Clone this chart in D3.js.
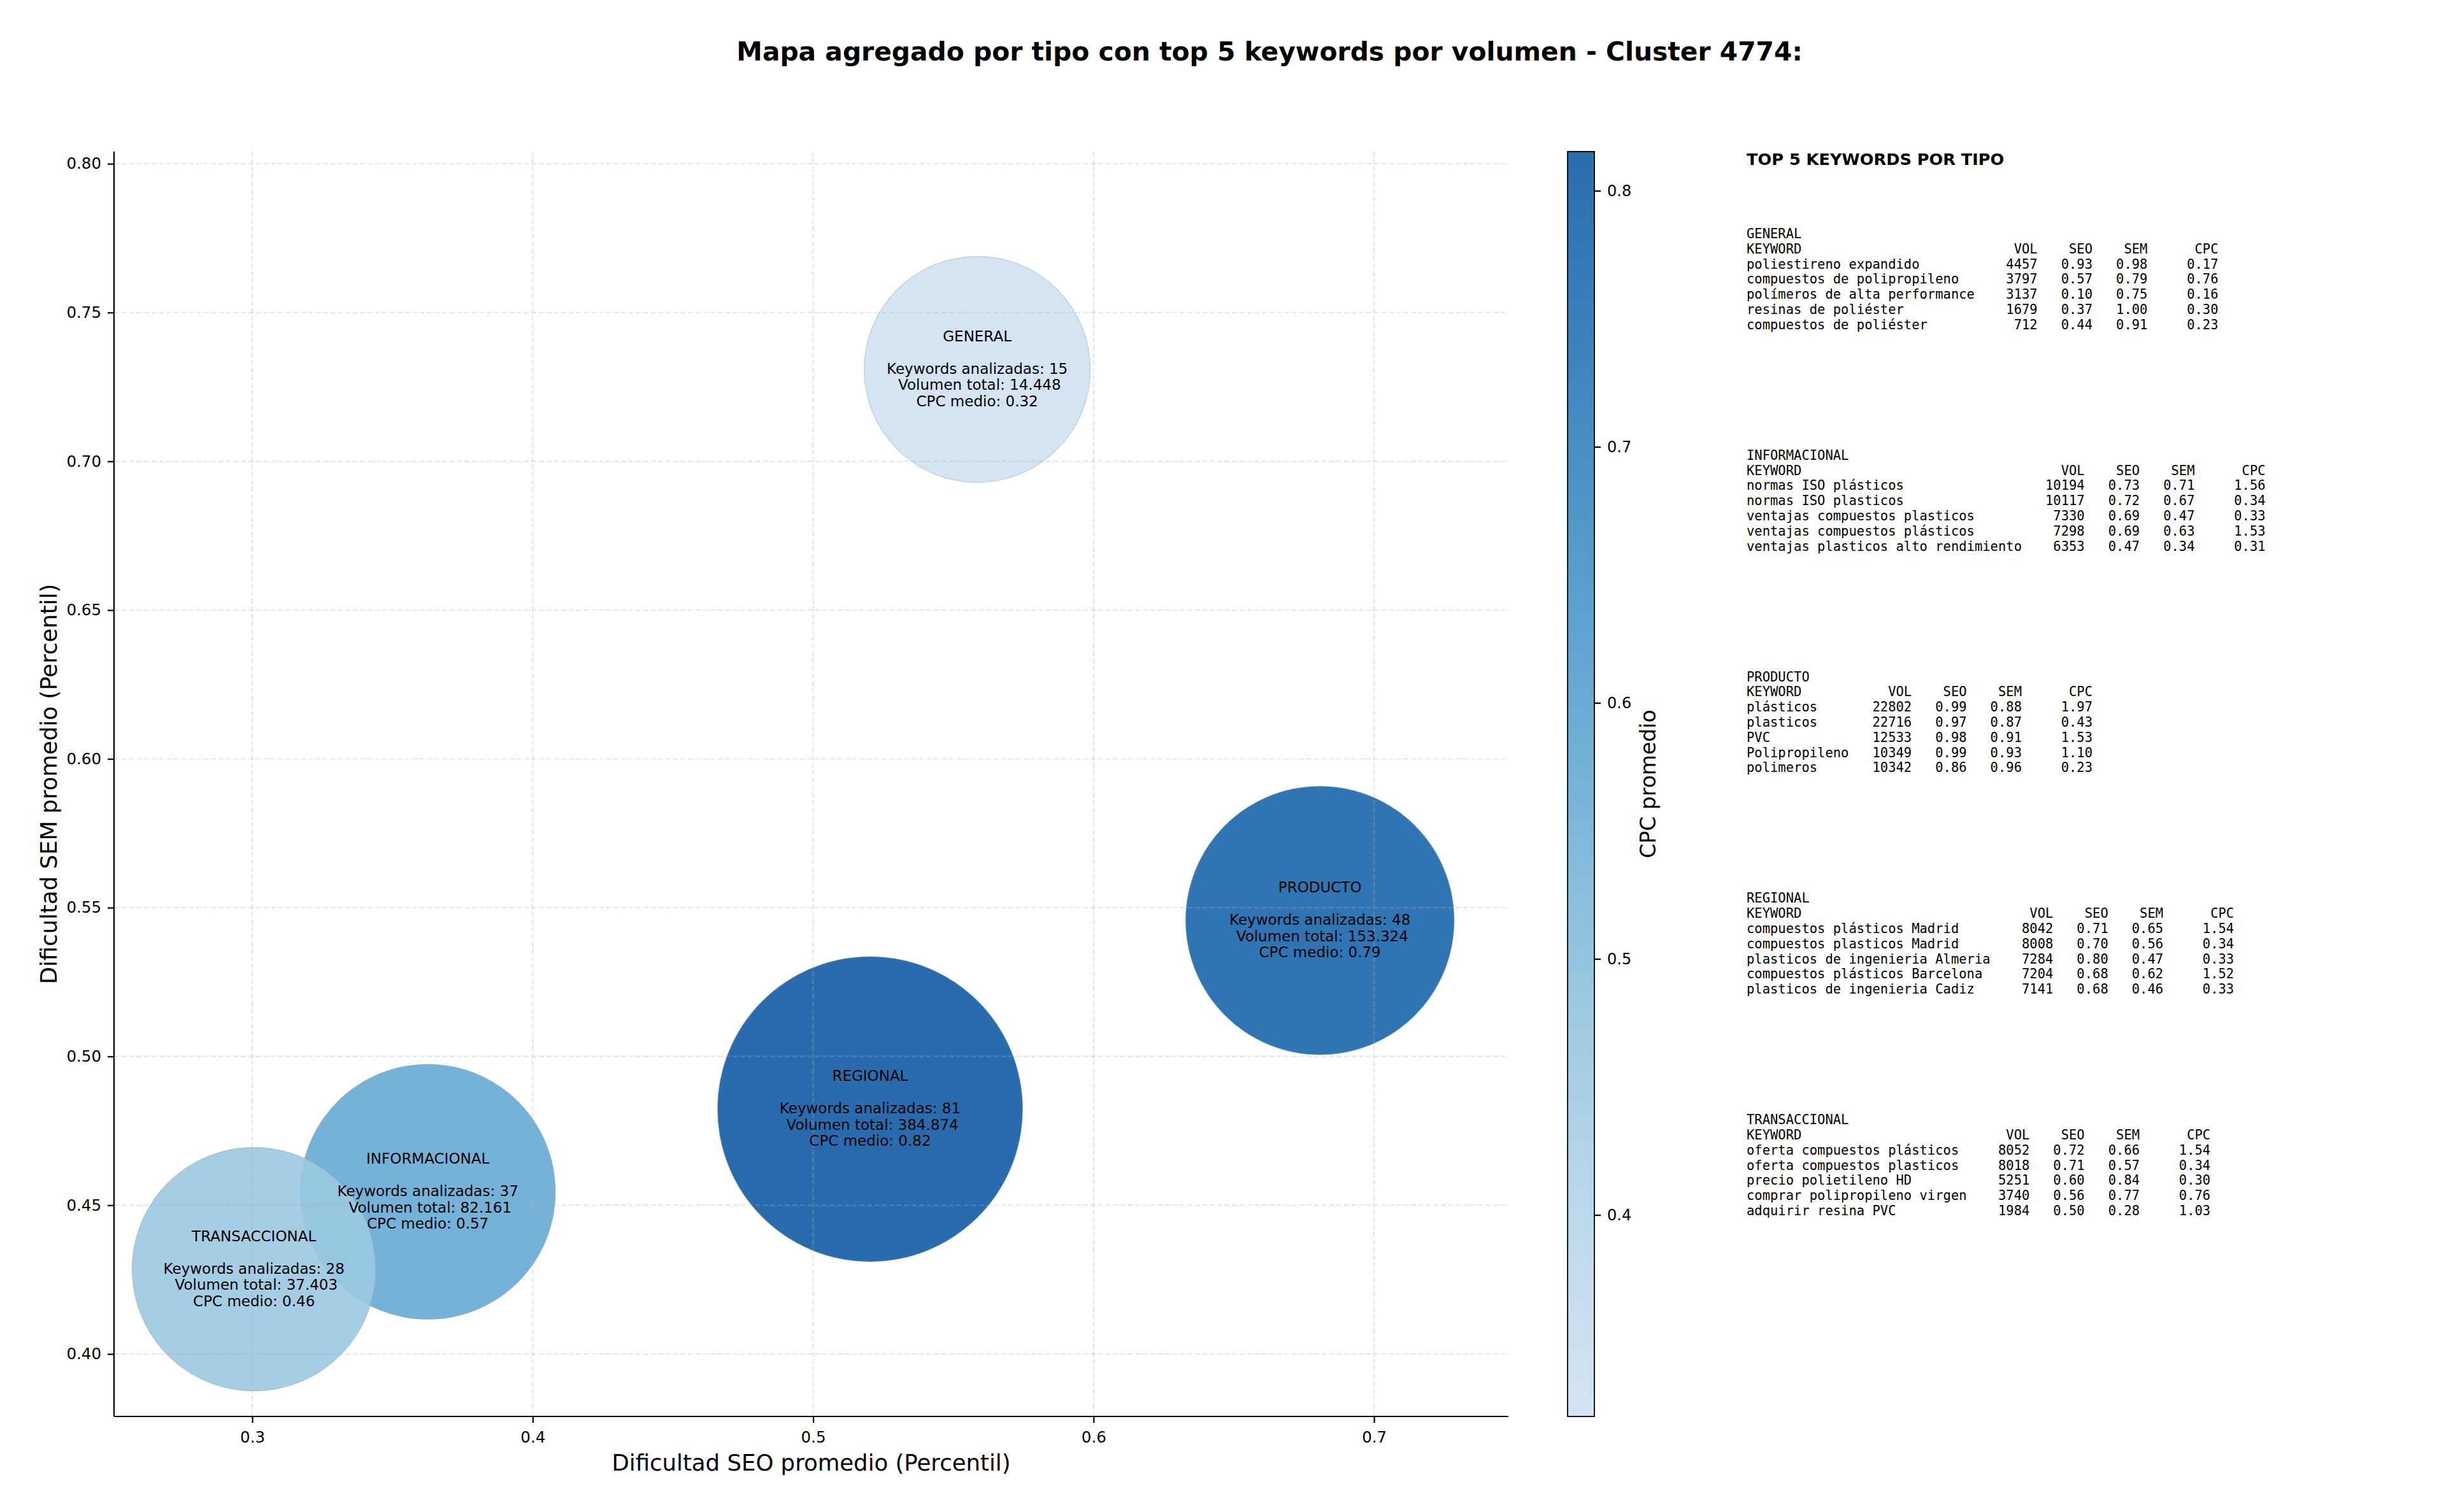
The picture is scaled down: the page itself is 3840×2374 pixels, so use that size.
<!DOCTYPE html>
<html>
<head>
<meta charset="utf-8">
<script src="https://cdn.jsdelivr.net/npm/d3@7"></script>
<style>
  body { margin: 0; background: #fff; }
  text { font-family: "DejaVu Sans", sans-serif; fill: #000; }
  .mono { font-family: "DejaVu Sans Mono", monospace; white-space: pre; }
</style>
</head>
<body>
<svg id="chart" width="3840" height="2374"></svg>
<script>
// aggregated values per search type
var tipos = ["GENERAL", "INFORMACIONAL", "PRODUCTO", "REGIONAL", "TRANSACCIONAL"];
var seoMedio = [0.5585, 0.3626, 0.6807, 0.5203, 0.3006];
var semMedio = [0.7309, 0.4545, 0.5457, 0.4823, 0.4285];
var nKeywords = [15, 37, 48, 81, 28];
var volTotal = [14448, 82161, 153324, 384874, 37403];
var cpcMedio = [0.3213, 0.57, 0.79, 0.8153, 0.46];

var xTicks = [0.3, 0.4, 0.5, 0.6, 0.7];
var yTicks = [0.40, 0.45, 0.50, 0.55, 0.60, 0.65, 0.70, 0.75, 0.80];
var cbTicks = [0.4, 0.5, 0.6, 0.7, 0.8];

// top 5 keywords per type: keyword, vol, seo, sem, cpc
var topGeneral = [
  ["poliestireno expandido", 4457, 0.93, 0.98, 0.17],
  ["compuestos de polipropileno", 3797, 0.57, 0.79, 0.76],
  ["polímeros de alta performance", 3137, 0.10, 0.75, 0.16],
  ["resinas de poliéster", 1679, 0.37, 1.00, 0.30],
  ["compuestos de poliéster", 712, 0.44, 0.91, 0.23]
];
var topInformacional = [
  ["normas ISO plásticos", 10194, 0.73, 0.71, 1.56],
  ["normas ISO plasticos", 10117, 0.72, 0.67, 0.34],
  ["ventajas compuestos plasticos", 7330, 0.69, 0.47, 0.33],
  ["ventajas compuestos plásticos", 7298, 0.69, 0.63, 1.53],
  ["ventajas plasticos alto rendimiento", 6353, 0.47, 0.34, 0.31]
];
var topProducto = [
  ["plásticos", 22802, 0.99, 0.88, 1.97],
  ["plasticos", 22716, 0.97, 0.87, 0.43],
  ["PVC", 12533, 0.98, 0.91, 1.53],
  ["Polipropileno", 10349, 0.99, 0.93, 1.10],
  ["polimeros", 10342, 0.86, 0.96, 0.23]
];
var topRegional = [
  ["compuestos plásticos Madrid", 8042, 0.71, 0.65, 1.54],
  ["compuestos plasticos Madrid", 8008, 0.70, 0.56, 0.34],
  ["plasticos de ingenieria Almeria", 7284, 0.80, 0.47, 0.33],
  ["compuestos plásticos Barcelona", 7204, 0.68, 0.62, 1.52],
  ["plasticos de ingenieria Cadiz", 7141, 0.68, 0.46, 0.33]
];
var topTransaccional = [
  ["oferta compuestos plásticos", 8052, 0.72, 0.66, 1.54],
  ["oferta compuestos plasticos", 8018, 0.71, 0.57, 0.34],
  ["precio polietileno HD", 5251, 0.60, 0.84, 0.30],
  ["comprar polipropileno virgen", 3740, 0.56, 0.77, 0.76],
  ["adquirir resina PVC", 1984, 0.50, 0.28, 1.03]
];
var topPorTipo = [topGeneral, topInformacional, topProducto, topRegional, topTransaccional];

var svg = d3.select("#chart");
svg.append("rect").attr("width", 3840).attr("height", 2374).attr("fill", "#fff");

var plot = { left: 179, right: 2368, top: 238, bottom: 2224 };

var x = d3.scaleLinear().domain([0.2507, 0.7479]).range([plot.left, plot.right]);
var y = d3.scaleLinear().domain([0.379, 0.8041]).range([plot.bottom, plot.top]);

// bubble area grows with the number of keywords
var area = d3.scaleLinear().domain(d3.extent(nKeywords)).range([177.5 * 177.5, 239.5 * 239.5]);

var color = d3.scaleSequential(function(t) { return d3.interpolateBlues(0.2 + 0.63 * t); })
  .domain(d3.extent(cpcMedio));

var data = tipos.map(function(t, i) {
  return { tipo: t, seo: seoMedio[i], sem: semMedio[i], n: nKeywords[i], vol: volTotal[i], cpc: cpcMedio[i] };
});

var es = d3.formatLocale({ decimal: ",", thousands: ".", grouping: [3], currency: ["", ""] });
var fmtVol = es.format(",d");

// bubbles
svg.append("g").selectAll("circle")
  .data(data)
  .enter().append("circle")
  .attr("cx", function(d) { return x(d.seo); })
  .attr("cy", function(d) { return y(d.sem); })
  .attr("r", function(d) { return Math.sqrt(area(d.n)); })
  .attr("fill", function(d) { return color(d.cpc); })
  .attr("fill-opacity", 0.9)
  .attr("stroke", "#8a9aab")
  .attr("stroke-opacity", 0.35)
  .attr("stroke-width", 1.5);

// grid (drawn over the bubbles like matplotlib does)
var grid = svg.append("g")
  .attr("stroke", "#b0b0b0")
  .attr("stroke-opacity", 0.3)
  .attr("stroke-width", 2.2)
  .attr("stroke-dasharray", "8.2,3.5");
grid.selectAll(".gx").data(xTicks).enter().append("line")
  .attr("x1", function(d) { return x(d); }).attr("x2", function(d) { return x(d); })
  .attr("y1", plot.top).attr("y2", plot.bottom);
grid.selectAll(".gy").data(yTicks).enter().append("line")
  .attr("y1", function(d) { return y(d); }).attr("y2", function(d) { return y(d); })
  .attr("x1", plot.left).attr("x2", plot.right);

// axes
var xAxis = svg.append("g")
  .attr("transform", "translate(0," + plot.bottom + ")")
  .call(d3.axisBottom(x).tickValues(xTicks).tickFormat(d3.format(".1f")).tickSize(10).tickPadding(14));
var yAxis = svg.append("g")
  .attr("transform", "translate(" + plot.left + ",0)")
  .call(d3.axisLeft(y).tickValues(yTicks).tickFormat(d3.format(".2f")).tickSize(10).tickPadding(10));
[xAxis, yAxis].forEach(function(a) {
  a.select(".domain").attr("stroke", "#000").attr("stroke-width", 2.2);
  a.selectAll(".tick line").attr("stroke", "#000").attr("stroke-width", 2.2);
  a.selectAll(".tick text").attr("font-size", "24.5px").attr("font-family", "DejaVu Sans").attr("fill", "#000");
});
xAxis.select(".domain").attr("d", "M" + plot.left + ",0H" + plot.right);
yAxis.select(".domain").attr("d", "M0," + plot.bottom + "V" + plot.top);

svg.append("text")
  .attr("x", (plot.left + plot.right) / 2).attr("y", 2296)
  .attr("text-anchor", "middle").attr("dominant-baseline", "central")
  .attr("font-size", "35.5px")
  .text("Dificultad SEO promedio (Percentil)");
svg.append("text")
  .attr("transform", "translate(76," + (plot.top + plot.bottom) / 2 + ") rotate(-90)")
  .attr("text-anchor", "middle").attr("dominant-baseline", "central")
  .attr("font-size", "35.5px")
  .text("Dificultad SEM promedio (Percentil)");

// bubble labels
var lineH = 25.5;
var labels = svg.append("g").selectAll("text")
  .data(data)
  .enter().append("text")
  .attr("text-anchor", "middle")
  .attr("font-size", "23px")
  .style("white-space", "pre");
labels.each(function(d) {
  var lines = [d.tipo, "", "Keywords analizadas: " + d.n, " Volumen total: " + fmtVol(d.vol), "CPC medio: " + d.cpc.toFixed(2)];
  var t = d3.select(this);
  lines.forEach(function(l, k) {
    t.append("tspan")
      .attr("x", x(d.seo))
      .attr("y", y(d.sem) + (k - 2) * lineH - 1)
      .attr("dominant-baseline", "central")
      .text(l);
  });
});

// title
svg.append("text")
  .attr("x", 1993).attr("y", 81)
  .attr("text-anchor", "middle").attr("dominant-baseline", "central")
  .attr("font-size", "40.8px").attr("font-weight", "bold")
  .text("Mapa agregado por tipo con top 5 keywords por volumen - Cluster 4774:");

// colorbar
var cb = { left: 2461, width: 42, top: plot.top, bottom: plot.bottom };
var cbScale = d3.scaleLinear().domain(color.domain()).range([cb.bottom, cb.top]);
var grad = svg.append("defs").append("linearGradient")
  .attr("id", "cbgrad").attr("x1", 0).attr("x2", 0).attr("y1", 1).attr("y2", 0);
d3.range(0, 1.0001, 0.05).forEach(function(t) {
  var v = color.domain()[0] + t * (color.domain()[1] - color.domain()[0]);
  grad.append("stop").attr("offset", t).attr("stop-color", color(v)).attr("stop-opacity", 0.9);
});
svg.append("rect")
  .attr("x", cb.left).attr("y", cb.top)
  .attr("width", cb.width).attr("height", cb.bottom - cb.top)
  .attr("fill", "url(#cbgrad)")
  .attr("stroke", "#000").attr("stroke-width", 1.8);
var cbAxis = svg.append("g")
  .attr("transform", "translate(" + (cb.left + cb.width) + ",0)")
  .call(d3.axisRight(cbScale).tickValues(cbTicks).tickFormat(d3.format(".1f")).tickSize(10).tickPadding(10));
cbAxis.select(".domain").remove();
cbAxis.selectAll(".tick line").attr("stroke", "#000").attr("stroke-width", 2.2);
cbAxis.selectAll(".tick text").attr("font-size", "24px").attr("font-family", "DejaVu Sans").attr("fill", "#000");
svg.append("text")
  .attr("transform", "translate(2587," + (cb.top + cb.bottom) / 2 + ") rotate(-90)")
  .attr("text-anchor", "middle").attr("dominant-baseline", "central")
  .attr("font-size", "33px")
  .text("CPC promedio");

// keyword tables
var tx = 2742;
svg.append("text")
  .attr("x", tx).attr("y", 250)
  .attr("dominant-baseline", "central")
  .attr("font-size", "25.6px").attr("font-weight", "bold")
  .text("TOP 5 KEYWORDS POR TIPO");

var rowH = 23.8;
topPorTipo.forEach(function(rows, i) {
  var w = d3.max(rows, function(r) { return r[0].length; });
  var lines = [tipos[i],
    "KEYWORD".padEnd(w) + " " + "VOL".padStart(7) + " " + "SEO".padStart(6) + " " + "SEM".padStart(6) + " " + "CPC".padStart(8)];
  rows.forEach(function(r) {
    lines.push(r[0].padEnd(w) + " " + String(r[1]).padStart(7) + " " + r[2].toFixed(2).padStart(6) + " " +
      r[3].toFixed(2).padStart(6) + " " + r[4].toFixed(2).padStart(8));
  });
  var y0 = 367 + i * 347.8;
  svg.append("g").selectAll("text")
    .data(lines)
    .enter().append("text")
    .attr("class", "mono")
    .attr("x", tx)
    .attr("y", function(d, k) { return y0 + k * rowH; })
    .attr("dominant-baseline", "central")
    .attr("font-size", "20.5px")
    .text(function(d) { return d; });
});
</script>
</body>
</html>
